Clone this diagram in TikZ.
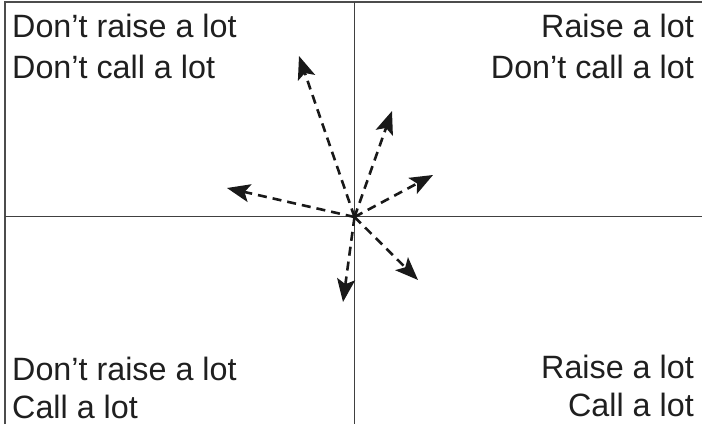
\documentclass[tikz,border=0pt]{standalone}
\usepackage{fontspec}
\setmainfont{Liberation Sans}
\usetikzlibrary{arrows.meta}
\begin{document}
\begin{tikzpicture}[x=1pt,y=-1pt,
  frameline/.style={draw=black!70,line width=1.4pt},
  axisline/.style={draw=black!75,line width=1.3pt},
  move/.style={draw=black!90,line width=2.6pt,dash pattern=on 9pt off 6pt,
    -{Stealth[length=23pt,width=18pt,inset=5pt]}},
  lbl/.style={inner sep=0pt,font=\fontsize{32.3}{41}\selectfont,text=black!88}]
\useasboundingbox (0,0) rectangle (702,424);
\coordinate (tl) at (5,2);
\coordinate (tr) at (702,2);
\coordinate (bl) at (5,424);
\draw[frameline] (bl) -- (tl) -- (tr);
\coordinate (ax1) at (5,216.5);
\coordinate (ax2) at (702,216.5);
\coordinate (ay1) at (354.5,2);
\coordinate (ay2) at (354.5,424);
\draw[axisline] (ax1) -- (ax2);
\draw[axisline] (ay1) -- (ay2);
\node[lbl,anchor=base west] (a1) at (12,37) {Don’t raise a lot};
\node[lbl,anchor=base west] (a2) at (12,78) {Don’t call a lot};
\node[lbl,anchor=base east] (b1) at (694,37) {Raise a lot};
\node[lbl,anchor=base east] (b2) at (694,78) {Don’t call a lot};
\node[lbl,anchor=base west] (c1) at (12,380) {Don’t raise a lot};
\node[lbl,anchor=base west] (c2) at (12,418) {Call a lot};
\node[lbl,anchor=base east] (d1) at (694,378) {Raise a lot};
\node[lbl,anchor=base east] (d2) at (694,416) {Call a lot};
\coordinate (o) at (354.5,217);
\coordinate (t1) at (299,56);
\coordinate (t2) at (392,111);
\coordinate (t3) at (433,175);
\coordinate (t4) at (227,188);
\coordinate (t5) at (418,280);
\coordinate (t6) at (343,302);
\foreach \t in {t1,t2,t3,t4,t5,t6} \draw[move] (o) -- (\t);
\end{tikzpicture}
\end{document}
